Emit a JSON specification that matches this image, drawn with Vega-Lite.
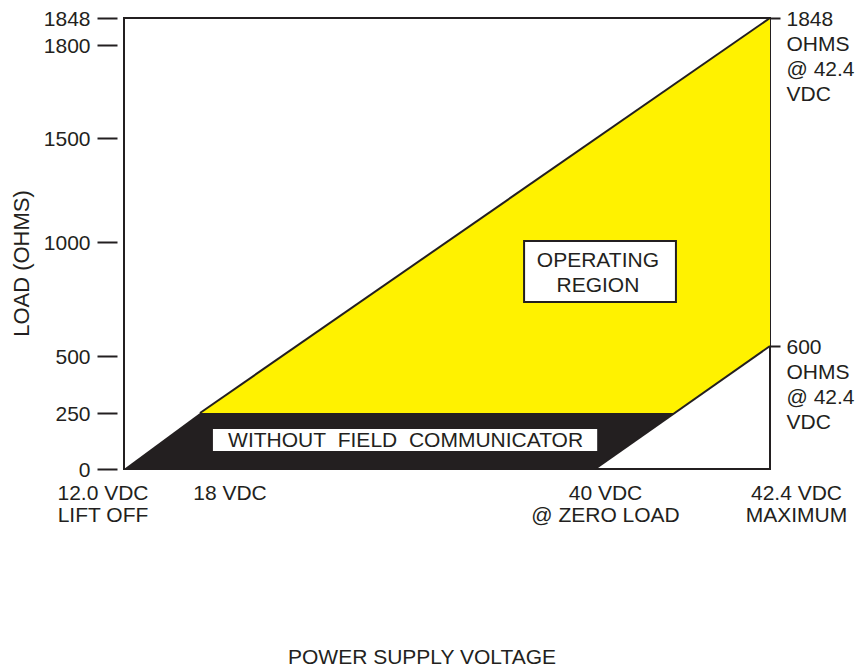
{
  "$schema": "https://vega.github.io/schema/vega-lite/v6.json",
  "width": 646,
  "height": 451,
  "autosize": {"type": "none"},
  "padding": {"left": 124, "top": 18, "right": 97, "bottom": 203},
  "background": "white",
  "config": {
    "view": {"stroke": "#231f20", "strokeWidth": 2},
    "font": "Liberation Sans",
    "axis": {
      "grid": false,
      "domain": false,
      "labelFont": "Liberation Sans",
      "titleFont": "Liberation Sans",
      "labelColor": "#231f20",
      "titleColor": "#231f20",
      "tickColor": "#231f20",
      "titleFontWeight": "normal",
      "labelOverlap": false,
      "labelFlush": false,
      "labelBound": false
    }
  },
  "datasets": {
    "yellow": [
      {"x": 18, "y": 250, "y2": 250},
      {"x": 41.09, "y": 1674, "y2": 250},
      {"x": 42.4, "y": 1848, "y2": 600}
    ],
    "black": [
      {"x": 12, "y": 0, "y2": 0},
      {"x": 18, "y": 250, "y2": 0},
      {"x": 40, "y": 250, "y2": 0},
      {"x": 41.09, "y": 250, "y2": 250}
    ],
    "lines": [
      {"series": "upper", "x": 18, "y": 250},
      {"series": "upper", "x": 42.4, "y": 1848},
      {"series": "lower", "x": 40, "y": 0},
      {"series": "lower", "x": 42.4, "y": 600}
    ],
    "opbox": [{"x": 36.05, "x2": 41.11, "y": 1005, "y2": 769}],
    "wfcbox": [{"x": 18.72, "x2": 40.03, "y": 178.6, "y2": 80.4}],
    "optext": [{"x": 40.04, "y": 970, "label": ["OPERATING", "REGION"]}],
    "wfctext": [{"x": 29.45, "y": 123, "label": "WITHOUT\u00a0 FIELD\u00a0 COMMUNICATOR"}]
  },
  "layer": [
    {
      "data": {"name": "yellow"},
      "mark": {"type": "area", "color": "#fff200"},
      "encoding": {
        "x": {
          "field": "x",
          "type": "quantitative",
          "scale": {"domain": [12, 18, 40, 42.4], "range": [0, 76, 471, 646], "nice": false, "zero": false},
          "axis": {
            "orient": "bottom",
            "values": [12, 18, 40, 42.4],
            "ticks": false,
            "tickSize": 0,
            "labelPadding": 13,
            "labelFontSize": 21,
            "labelAlign": "center",
            "labelBaseline": "top",
            "labelLineHeight": 22,
            "labelExpr": "datum.value == 12 ? ['12.0 VDC', 'LIFT OFF'] : datum.value == 18 ? '18 VDC' : datum.value == 40 ? ['40 VDC', '@ ZERO LOAD'] : ['42.4 VDC', 'MAXIMUM']",
            "labelOffset": {
              "condition": [
                {"test": "datum.value == 12", "value": -21.5},
                {"test": "datum.value == 18", "value": 29.5},
                {"test": "datum.value == 40", "value": 10}
              ],
              "value": 26
            },
            "title": "POWER SUPPLY VOLTAGE",
            "titleFontSize": 21,
            "titleX": 297.5,
            "titleY": 188.5,
            "titleAlign": "center",
            "titleBaseline": "middle"
          }
        },
        "y": {
          "field": "y",
          "type": "quantitative",
          "scale": {"domain": [0, 250, 500, 600, 1000, 1500, 1800, 1848], "range": [451, 395, 338, 328, 224, 120, 27, 0], "nice": false, "zero": false},
          "axis": {
            "orient": "left",
            "values": [0, 250, 500, 1000, 1500, 1800, 1848],
            "format": "d",
            "offset": 7,
            "tickSize": 20,
            "tickWidth": 2,
            "labelPadding": 7,
            "labelFontSize": 21,
            "labelOffset": 1,
            "title": "LOAD (OHMS)",
            "titleFontSize": 22,
            "titleX": -95.5,
            "titleY": 245,
            "titleAlign": "center",
            "titleBaseline": "middle"
          }
        },
        "y2": {"field": "y2"}
      }
    },
    {
      "data": {"name": "black"},
      "mark": {"type": "area", "color": "#231f20"},
      "encoding": {
        "x": {"field": "x", "type": "quantitative"},
        "y": {"field": "y", "type": "quantitative", "axis": null},
        "y2": {"field": "y2"}
      }
    },
    {
      "data": {"name": "lines"},
      "mark": {"type": "line", "color": "#231f20", "strokeWidth": 2},
      "encoding": {
        "detail": {"field": "series", "type": "nominal"},
        "x": {"field": "x", "type": "quantitative"},
        "y": {
          "field": "y",
          "type": "quantitative",
          "axis": {
            "orient": "right",
            "values": [600, 1848],
            "tickSize": 10,
            "tickWidth": 2,
            "labelPadding": 6,
            "labelFontSize": 21,
            "labelAlign": "left",
            "labelBaseline": "top",
            "labelLineHeight": 25,
            "labelOffset": -9.5,
            "labelExpr": "datum.value == 1848 ? ['1848', 'OHMS', '@ 42.4', 'VDC'] : ['600', 'OHMS', '@ 42.4', 'VDC']",
            "title": null
          }
        }
      }
    },
    {
      "data": {"name": "opbox"},
      "mark": {"type": "rect", "fill": "white", "stroke": "#231f20", "strokeWidth": 2},
      "encoding": {
        "x": {"field": "x", "type": "quantitative"},
        "x2": {"field": "x2"},
        "y": {"field": "y", "type": "quantitative", "axis": null},
        "y2": {"field": "y2"}
      }
    },
    {
      "data": {"name": "wfcbox"},
      "mark": {"type": "rect", "fill": "white", "strokeWidth": 0},
      "encoding": {
        "x": {"field": "x", "type": "quantitative"},
        "x2": {"field": "x2"},
        "y": {"field": "y", "type": "quantitative", "axis": null},
        "y2": {"field": "y2"}
      }
    },
    {
      "data": {"name": "optext"},
      "mark": {"type": "text", "fontSize": 21, "font": "Liberation Sans", "color": "#231f20", "align": "center", "baseline": "top", "lineHeight": 25},
      "encoding": {
        "x": {"field": "x", "type": "quantitative"},
        "y": {"field": "y", "type": "quantitative", "axis": null},
        "text": {"field": "label"}
      }
    },
    {
      "data": {"name": "wfctext"},
      "mark": {"type": "text", "fontSize": 21, "font": "Liberation Sans", "color": "#231f20", "align": "center", "baseline": "middle"},
      "encoding": {
        "x": {"field": "x", "type": "quantitative"},
        "y": {"field": "y", "type": "quantitative", "axis": null},
        "text": {"field": "label"}
      }
    }
  ],
  "resolve": {"axis": {"y": "independent"}}
}
